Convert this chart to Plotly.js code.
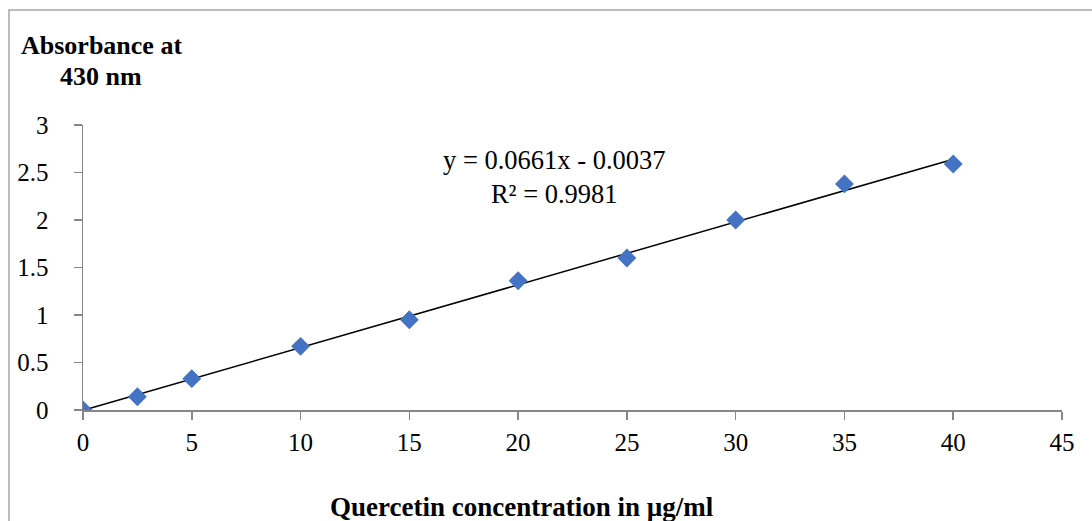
<!DOCTYPE html>
<html>
<head>
<meta charset="utf-8">
<script src="https://cdn.plot.ly/plotly-3.0.1.min.js"></script>
<style>
  html, body { margin: 0; padding: 0; background: #fff; }
  #chart { width: 1092px; height: 521px; }
</style>
</head>
<body>
<div id="chart"></div>
<script>
// Quercetin calibration standards
const concentration = [0, 2.5, 5, 10, 15, 20, 25, 30, 35, 40];
const absorbance = [0, 0.14, 0.33, 0.67, 0.95, 1.36, 1.60, 2.00, 2.38, 2.59];

// Linear fit reported on the chart
const slope = 0.0661;
const intercept = -0.0037;
const rSquared = 0.9981;

const xTicks = [0, 5, 10, 15, 20, 25, 30, 35, 40, 45];
const yTicks = [0, 0.5, 1, 1.5, 2, 2.5, 3];

const fitX = [concentration[0], concentration[concentration.length - 1]];
const fitY = fitX.map(x => slope * x + intercept);

const serif = 'Liberation Serif';
const axisGray = '#868686';

const traces = [
  {
    x: fitX, y: fitY, type: 'scatter', mode: 'lines',
    line: { color: '#000000', width: 1.5 },
    hoverinfo: 'skip', showlegend: false
  },
  {
    x: concentration, y: absorbance, type: 'scatter', mode: 'markers',
    marker: { symbol: 'diamond', size: 14.5, color: '#4472C4' },
    showlegend: false
  }
];

const fmt = v => (v < 0 ? '- ' + Math.abs(v).toFixed(4) : '+ ' + v.toFixed(4));

const layout = {
  width: 1092, height: 521,
  margin: { l: 83, r: 30, t: 125, b: 111 },
  paper_bgcolor: '#ffffff', plot_bgcolor: '#ffffff',
  font: { family: serif, size: 25, color: '#000000' },
  xaxis: {
    range: [0, 45], tickvals: xTicks, ticktext: xTicks.map(String),
    showgrid: false, zeroline: false, showline: true, linecolor: axisGray, linewidth: 1.5,
    ticks: 'outside', ticklen: 8, tickcolor: axisGray, tickwidth: 1.5, ticklabelstandoff: 1,
    tickfont: { family: serif, size: 25, color: '#000' }, fixedrange: true
  },
  yaxis: {
    range: [0, 3], tickvals: yTicks, ticktext: yTicks.map(String),
    showgrid: false, zeroline: false, showline: true, linecolor: axisGray, linewidth: 1.5,
    ticks: 'outside', ticklen: 8, tickcolor: axisGray, tickwidth: 1.5, ticklabelstandoff: 20,
    tickfont: { family: serif, size: 25, color: '#000' }, fixedrange: true
  },
  shapes: [
    {
      type: 'rect', xref: 'paper', yref: 'paper', xsizemode: 'pixel', ysizemode: 'pixel',
      xanchor: 0, yanchor: 1,
      x0: -74, x1: 1060, y0: 115, y1: -600,
      line: { color: '#a6a6a6', width: 1.5 }, fillcolor: 'rgba(0,0,0,0)'
    }
  ],
  annotations: [
    {
      xref: 'paper', yref: 'paper', x: -0.065, y: 1.0, yshift: 80, xanchor: 'left', yanchor: 'middle',
      text: '<b>Absorbance at</b>', showarrow: false, align: 'left',
      font: { family: serif, size: 26, color: '#000' }
    },
    {
      xref: 'paper', yref: 'paper', x: 0.0188, y: 1.0, yshift: 49, xanchor: 'center', yanchor: 'middle',
      text: '<b>430 nm</b>', showarrow: false,
      font: { family: serif, size: 26, color: '#000' }
    },
    {
      xref: 'paper', yref: 'paper', x: 0.448, y: 0, yshift: -97, xanchor: 'center', yanchor: 'middle',
      text: '<b>Quercetin concentration in µg/ml</b>', showarrow: false,
      font: { family: serif, size: 27, color: '#000' }
    },
    {
      xref: 'x', yref: 'y', x: 21.68, y: 2.45, xanchor: 'center', yanchor: 'middle',
      text: 'y = ' + slope.toFixed(4) + 'x ' + fmt(intercept) + '<br>R² = ' + rSquared.toFixed(4),
      showarrow: false, align: 'center',
      font: { family: serif, size: 26.5, color: '#000' }
    }
  ]
};

Plotly.newPlot('chart', traces, layout, { displayModeBar: false, staticPlot: true });
</script>
</body>
</html>
